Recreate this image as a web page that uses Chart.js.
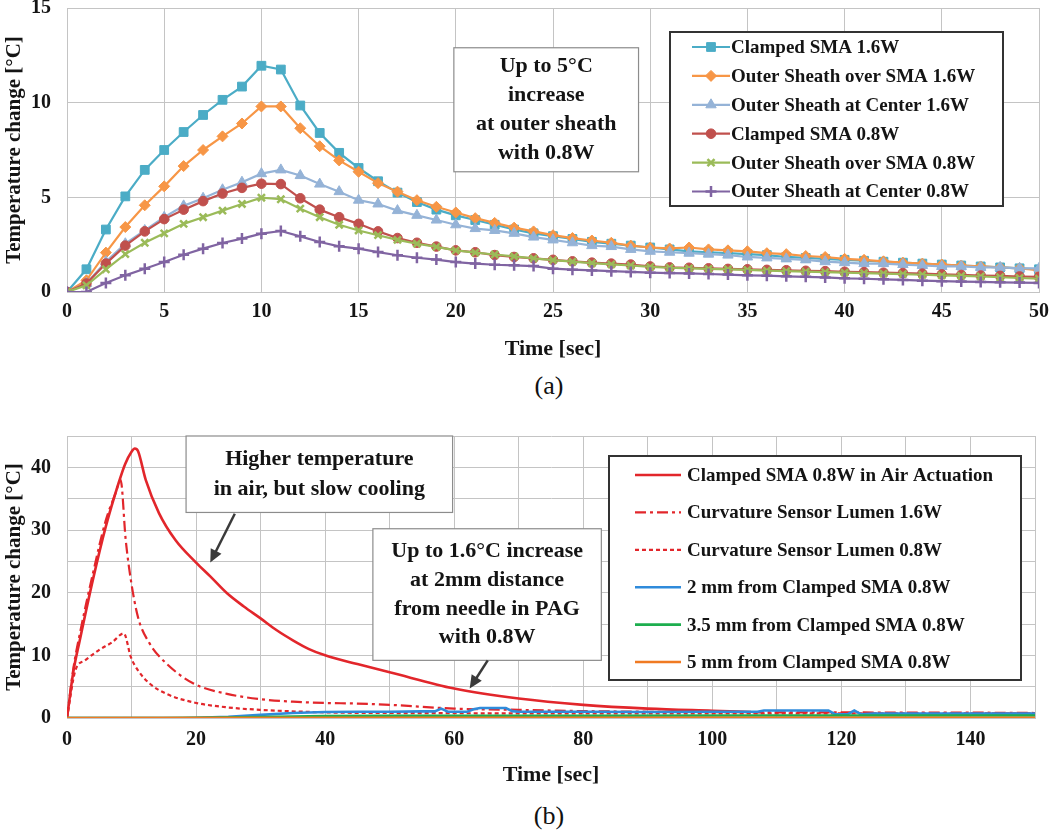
<!DOCTYPE html>
<html><head><meta charset="utf-8">
<script src="https://cdn.jsdelivr.net/npm/chart.js@4.4.0/dist/chart.umd.min.js"></script>
<style>
html,body{margin:0;padding:0;background:#fff;width:1050px;height:831px;overflow:hidden;}
#wa{position:absolute;left:0;top:0;width:1050px;height:365px;}
#wb{position:absolute;left:0;top:420px;width:1050px;height:372px;}
.cap{position:absolute;left:499px;width:100px;text-align:center;font-family:"Liberation Serif",serif;font-size:26px;color:#111;line-height:30px;}
</style></head><body>
<div id="wa"><canvas id="ca"></canvas></div>
<div class="cap" style="top:371px">(a)</div>
<div id="wb"><canvas id="cb"></canvas></div>
<div class="cap" style="top:801px">(b)</div>
<script>
// ---------- Chart (a) data ----------
const timeA = [0,1,2,3,4,5,6,7,8,9,10,11,12,13,14,15,16,17,18,19,20,21,22,23,24,25,26,27,28,29,30,31,32,33,34,35,36,37,38,39,40,41,42,43,44,45,46,47,48,49,50];
const clampedSMA16 = [0,1.2,3.3,5.05,6.45,7.5,8.45,9.35,10.15,10.85,11.95,11.75,9.85,8.4,7.35,6.55,5.85,5.25,4.75,4.35,4.05,3.8,3.55,3.3,3.1,2.95,2.8,2.65,2.55,2.45,2.35,2.25,2.15,2.1,2.05,2.0,1.95,1.85,1.8,1.75,1.7,1.65,1.6,1.55,1.5,1.45,1.4,1.35,1.3,1.25,1.2];
const sheathOverSMA16 = [0,0.62,2.08,3.43,4.58,5.58,6.65,7.5,8.22,8.9,9.8,9.8,8.65,7.7,6.95,6.35,5.75,5.3,4.85,4.5,4.2,3.9,3.65,3.4,3.2,3.0,2.85,2.72,2.6,2.45,2.35,2.3,2.35,2.25,2.2,2.15,2.05,2.0,1.9,1.85,1.75,1.7,1.62,1.55,1.5,1.45,1.4,1.35,1.3,1.25,1.15];
const sheathCenter16 = [0,0.45,1.6,2.55,3.25,3.95,4.55,4.95,5.4,5.8,6.25,6.45,6.15,5.7,5.3,4.85,4.65,4.3,4.05,3.8,3.55,3.35,3.25,3.1,2.9,2.75,2.6,2.45,2.4,2.25,2.15,2.1,2.05,2.0,1.95,1.85,1.8,1.75,1.7,1.6,1.55,1.5,1.5,1.45,1.4,1.35,1.35,1.3,1.3,1.25,1.25];
const clampedSMA08 = [0,0.45,1.5,2.45,3.2,3.85,4.35,4.8,5.2,5.5,5.72,5.7,4.95,4.35,3.95,3.6,3.2,2.85,2.6,2.4,2.2,2.1,1.95,1.85,1.78,1.7,1.62,1.55,1.5,1.45,1.35,1.3,1.28,1.25,1.22,1.2,1.17,1.15,1.12,1.1,1.07,1.05,1.02,1.0,0.97,0.93,0.9,0.87,0.85,0.82,0.8];
const sheathOverSMA08 = [0,0.35,1.2,2.0,2.6,3.1,3.6,3.95,4.3,4.65,4.98,4.9,4.4,3.95,3.55,3.25,3.0,2.75,2.55,2.38,2.2,2.08,1.98,1.88,1.78,1.68,1.6,1.52,1.46,1.4,1.33,1.28,1.25,1.22,1.2,1.17,1.13,1.1,1.08,1.05,1.02,1.0,0.97,0.94,0.91,0.88,0.85,0.82,0.78,0.74,0.7];
const sheathCenter08 = [0,0,0.48,0.88,1.23,1.58,1.97,2.29,2.59,2.82,3.08,3.22,2.94,2.64,2.41,2.29,2.11,1.94,1.81,1.71,1.58,1.5,1.44,1.41,1.37,1.23,1.18,1.14,1.1,1.06,1.02,1.0,0.98,0.95,0.92,0.88,0.86,0.83,0.8,0.77,0.72,0.7,0.67,0.64,0.6,0.57,0.55,0.53,0.51,0.5,0.48];
const labelsA = ['Clamped SMA 1.6W','Outer Sheath over SMA 1.6W','Outer Sheath at Center 1.6W','Clamped SMA 0.8W','Outer Sheath over SMA 0.8W','Outer Sheath at Center 0.8W'];
const noteA = ['Up to 5°C','increase','at outer sheath','with 0.8W'];

// ---------- Chart (b) data ----------
const airT = [0,1,2,4,6,8,9,10,10.5,11,12.2,14.25,16.8,20,22.2,24.8,27.4,30,32.5,35,37.5,40,45,50,60,70,80,90,100,106];
const airV = [0,7.5,12.5,22,30.5,37.5,40.5,42.5,43,42.6,38,32.7,28.4,24.8,22.6,19.9,17.8,15.9,14,12.4,11,10,8.6,7.3,4.7,3.1,2.1,1.5,1.15,0.95];
const lumen16T = [0,1,2,4,6,7.5,8.3,9.1,9.9,11,12.8,15.4,19.6,24.8,30,35,40,45,50,60,70,80,90,100,110,120,130,140,150];
const lumen16V = [0,8,13.5,23,31.5,35.8,38,28.4,22,16.1,11.9,8.7,5.5,3.85,3.0,2.6,2.4,2.3,2.1,1.5,1.3,1.1,1.0,0.95,0.9,0.9,0.85,0.85,0.8];
const lumen08T = [0,1.3,2.8,4.9,7,8.8,9.9,11,12.8,15.4,19.6,24.8,30,40,50,70,100,150];
const lumen08V = [0,7.6,9.2,10.8,12.1,13.5,9.7,7.6,5.5,3.85,2.5,1.7,1.3,0.9,0.8,0.75,0.75,0.75];
const mm2T = [0,18,20,25,30,35,40,45,50,55,57,58,59,62,63,64,68,69,70,80,90,100,107,108,118,119,121,122,123,125,135,150];
const mm2V = [0,0,0.05,0.2,0.5,0.8,0.95,1.0,1.0,1.05,1.05,1.5,1.0,1.0,1.4,1.6,1.6,1.1,1.0,1.0,0.95,1.0,1.0,1.2,1.2,0.6,0.6,1.2,0.6,0.7,0.7,0.7];
const mm35T = [0,15,20,30,40,50,80,110,150];
const mm35V = [0,0,0.05,0.15,0.3,0.35,0.35,0.4,0.4];
const mm5T = [0,50,100,150];
const mm5V = [0,0.05,0.05,0.05];
const labelsB = ['Clamped SMA 0.8W in Air Actuation','Curvature Sensor Lumen 1.6W','Curvature Sensor Lumen 0.8W','2 mm from Clamped SMA 0.8W','3.5 mm from Clamped SMA 0.8W','5 mm from Clamped SMA 0.8W'];
const noteB1 = ['Higher temperature','in air, but slow cooling'];
const noteB2 = ['Up to 1.6°C increase','at 2mm distance','from needle in PAG','with 0.8W'];

// ---------- helpers ----------
const FONT = '"Liberation Serif", "Times New Roman", serif';
const TXT = '#141414';
const GRID = '#c4c4c4';
function pts(xs, ys){ return xs.map((x,i)=>({x:x, y:ys[i]})); }

function drawMarker(ctx, style, r, x, y, bw){
  if (Chart.helpers && Chart.helpers.drawPoint){
    Chart.helpers.drawPoint(ctx, {pointStyle: style, radius: r, rotation: 0, borderWidth: bw}, x, y);
  }
}

function boxText(ctx, scales, box, lines, fontPx, spacing, borderColor, borderW){
  const x0 = scales.x.getPixelForValue(box.x0), x1 = scales.x.getPixelForValue(box.x1);
  const y0 = scales.y.getPixelForValue(box.y0), y1 = scales.y.getPixelForValue(box.y1);
  ctx.save();
  ctx.fillStyle = '#fff';
  ctx.fillRect(x0, y0, x1-x0, y1-y0);
  ctx.strokeStyle = borderColor; ctx.lineWidth = borderW;
  ctx.strokeRect(x0, y0, x1-x0, y1-y0);
  ctx.fillStyle = TXT;
  ctx.font = 'bold ' + fontPx + 'px ' + FONT;
  ctx.textAlign = 'center'; ctx.textBaseline = 'middle';
  const cx = (x0+x1)/2, cy = (y0+y1)/2;
  lines.forEach((t,i)=>{ ctx.fillText(t, cx, cy + (i - (lines.length-1)/2)*spacing); });
  ctx.restore();
}

function arrow(ctx, scales, a){
  const x0 = scales.x.getPixelForValue(a.x0), y0 = scales.y.getPixelForValue(a.y0);
  const x1 = scales.x.getPixelForValue(a.x1), y1 = scales.y.getPixelForValue(a.y1);
  const ang = Math.atan2(y1-y0, x1-x0), L = 13, W = 6;
  ctx.save();
  ctx.strokeStyle = '#3a3a3a'; ctx.fillStyle = '#3a3a3a'; ctx.lineWidth = 2.5;
  ctx.beginPath(); ctx.moveTo(x0,y0);
  ctx.lineTo(x1 - Math.cos(ang)*L*0.8, y1 - Math.sin(ang)*L*0.8); ctx.stroke();
  ctx.beginPath(); ctx.moveTo(x1,y1);
  ctx.lineTo(x1 - Math.cos(ang)*L + Math.sin(ang)*W, y1 - Math.sin(ang)*L - Math.cos(ang)*W);
  ctx.lineTo(x1 - Math.cos(ang)*L - Math.sin(ang)*W, y1 - Math.sin(ang)*L + Math.cos(ang)*W);
  ctx.closePath(); ctx.fill();
  ctx.restore();
}

function legendBox(chart, cfg){
  const ctx = chart.ctx;
  ctx.save();
  ctx.fillStyle = '#fff';
  ctx.fillRect(cfg.left, cfg.top, cfg.right-cfg.left, cfg.bottom-cfg.top);
  ctx.strokeStyle = cfg.border; ctx.lineWidth = 2;
  ctx.strokeRect(cfg.left, cfg.top, cfg.right-cfg.left, cfg.bottom-cfg.top);
  ctx.font = 'bold ' + cfg.font + 'px ' + FONT;
  ctx.textAlign = 'left'; ctx.textBaseline = 'middle';
  chart.data.datasets.forEach((ds,i)=>{
    const y = cfg.top + cfg.first + i*cfg.step;
    ctx.save();
    ctx.strokeStyle = ds.borderColor; ctx.lineWidth = ds.borderWidth;
    ctx.setLineDash(ds.borderDash || []);
    ctx.beginPath(); ctx.moveTo(cfg.lineX0, y); ctx.lineTo(cfg.lineX1, y); ctx.stroke();
    ctx.setLineDash([]);
    if (ds.pointRadius > 0){
      ctx.fillStyle = ds.pointBackgroundColor; ctx.strokeStyle = ds.pointBorderColor;
      ctx.lineWidth = ds.pointBorderWidth;
      drawMarker(ctx, ds.pointStyle, ds.pointRadius, (cfg.lineX0+cfg.lineX1)/2, y, ds.pointBorderWidth);
    }
    ctx.restore();
    ctx.fillStyle = TXT;
    ctx.fillText(ds.label, cfg.textX, y + 1);
  });
  ctx.restore();
}

function axisFont(sz){ return {family: FONT, weight: 'bold', size: sz}; }
function fixX(h){ return s => { s.height = h; s.paddingLeft = 0; s.paddingRight = 0; }; }
function fixY(w){ return s => { s.width = w; s.paddingTop = 0; s.paddingBottom = 0; }; }

// ---------- Chart (a) ----------
const styleA = [
  {c:'#4BACC6', s:'rect', r:6.2, bw:1},
  {c:'#F79646', s:'rectRot', r:5.5, bw:1},
  {c:'#95B3D7', s:'triangle', r:6, bw:1},
  {c:'#C0504D', s:'circle', r:4.8, bw:1},
  {c:'#9BBB59', s:'crossRot', r:5, bw:2.5},
  {c:'#8064A2', s:'cross', r:5.5, bw:2.5}
];
const valsA = [clampedSMA16, sheathOverSMA16, sheathCenter16, clampedSMA08, sheathOverSMA08, sheathCenter08];
const dsA = valsA.map((v,i)=>({
  label: labelsA[i], data: pts(timeA, v),
  borderColor: styleA[i].c, backgroundColor: styleA[i].c, borderWidth: 2.2,
  pointStyle: styleA[i].s, pointRadius: styleA[i].r, pointHoverRadius: styleA[i].r,
  pointBackgroundColor: styleA[i].c, pointBorderColor: styleA[i].c, pointBorderWidth: styleA[i].bw,
  tension: 0, order: valsA.length - i
}));

new Chart(document.getElementById('ca'), {
  type: 'line',
  data: { datasets: dsA },
  options: {
    responsive: true, maintainAspectRatio: false, animation: false, devicePixelRatio: 1,
    layout: { padding: {left: 0, right: 11, top: 7, bottom: 0} },
    plugins: { legend: {display: false}, tooltip: {enabled: false} },
    scales: {
      x: { type: 'linear', min: 0, max: 50,
        ticks: { stepSize: 5, font: axisFont(20), color: TXT, padding: 8, maxRotation: 0 },
        grid: { color: GRID, drawTicks: false }, border: { color: GRID },
        title: { display: true, text: 'Time [sec]', font: axisFont(22), color: TXT, padding: {top: 0, bottom: 2} },
        afterFit: fixX(73) },
      y: { type: 'linear', min: 0, max: 15,
        ticks: { stepSize: 5, font: axisFont(20), color: TXT, padding: 16 },
        grid: { color: GRID, drawTicks: false }, border: { color: GRID },
        title: { display: true, text: 'Temperature change [°C]', font: axisFont(21), color: TXT, padding: {top: 2, bottom: 0} },
        afterFit: fixY(67) }
    }
  },
  plugins: [{
    id: 'decorA',
    afterDatasetsDraw(chart){
      const ctx = chart.ctx, sc = chart.scales;
      boxText(ctx, sc, {x0: 19.9, x1: 29.4, y0: 12.9, y1: 6.35}, noteA, 22, 29, '#8c8c8c', 1.2);
      legendBox(chart, {left: 670, top: 32, right: 1003, bottom: 206, border: '#333',
        first: 15, step: 28.9, lineX0: 692, lineX1: 730, textX: 731, font: 19});
    }
  }]
});

// ---------- Chart (b) ----------
const styleB = [
  {c:'#E2262B', w:2.6, d:[], m:'monotone'},
  {c:'#E2262B', w:2.2, d:[11,4,3,4], m:'monotone'},
  {c:'#E2262B', w:2.2, d:[4,3], m:'monotone'},
  {c:'#2F8BDB', w:2.6, d:[], m:'default'},
  {c:'#1DAE4E', w:2.6, d:[], m:'default'},
  {c:'#F07A22', w:2.6, d:[], m:'default'}
];
const seriesB = [pts(airT, airV), pts(lumen16T, lumen16V), pts(lumen08T, lumen08V), pts(mm2T, mm2V), pts(mm35T, mm35V), pts(mm5T, mm5V)];
const dsB = seriesB.map((d,i)=>({
  label: labelsB[i], data: d,
  borderColor: styleB[i].c, backgroundColor: styleB[i].c, borderWidth: styleB[i].w,
  borderDash: styleB[i].d, pointRadius: 0, pointHoverRadius: 0,
  cubicInterpolationMode: styleB[i].m, tension: 0, order: seriesB.length - i
}));

new Chart(document.getElementById('cb'), {
  type: 'line',
  data: { datasets: dsB },
  options: {
    responsive: true, maintainAspectRatio: false, animation: false, devicePixelRatio: 1,
    layout: { padding: {left: 0, right: 15, top: 16, bottom: 0} },
    plugins: { legend: {display: false}, tooltip: {enabled: false} },
    scales: {
      x: { type: 'linear', min: 0, max: 150,
        ticks: { stepSize: 10, font: axisFont(20), color: TXT, padding: 10, maxRotation: 0, autoSkip: false,
          callback: v => (v % 20 === 0 ? v : '') },
        grid: { color: GRID, drawTicks: false }, border: { color: GRID },
        title: { display: true, text: 'Time [sec]', font: axisFont(22), color: TXT, padding: {top: 0, bottom: 3} },
        afterFit: fixX(74) },
      y: { type: 'linear', min: 0, max: 45,
        ticks: { stepSize: 5, font: axisFont(20), color: TXT, padding: 16, autoSkip: false,
          callback: v => (v % 10 === 0 ? v : '') },
        grid: { color: GRID, drawTicks: false }, border: { color: GRID },
        title: { display: true, text: 'Temperature change [°C]', font: axisFont(21), color: TXT, padding: {top: 2, bottom: 0} },
        afterFit: fixY(67) }
    }
  },
  plugins: [{
    id: 'decorB',
    afterDatasetsDraw(chart){
      const ctx = chart.ctx, sc = chart.scales;
      boxText(ctx, sc, {x0: 18.45, x1: 59.75, y0: 45, y1: 32.8}, noteB1, 22, 30, '#8c8c8c', 1.2);
      arrow(ctx, sc, {x0: 26.0, y0: 32.6, x1: 22.2, y1: 24.8});
      boxText(ctx, sc, {x0: 47.4, x1: 82.8, y0: 30.2, y1: 9.2}, noteB2, 22, 28.7, '#8c8c8c', 1.2);
      arrow(ctx, sc, {x0: 65.2, y0: 9.2, x1: 62.4, y1: 4.7});
      legendBox(chart, {left: 609, top: 36, right: 1021, bottom: 260, border: '#333',
        first: 19, step: 37.4, lineX0: 635, lineX1: 681, textX: 687, font: 19});
    }
  }]
});
</script>
</body></html>
